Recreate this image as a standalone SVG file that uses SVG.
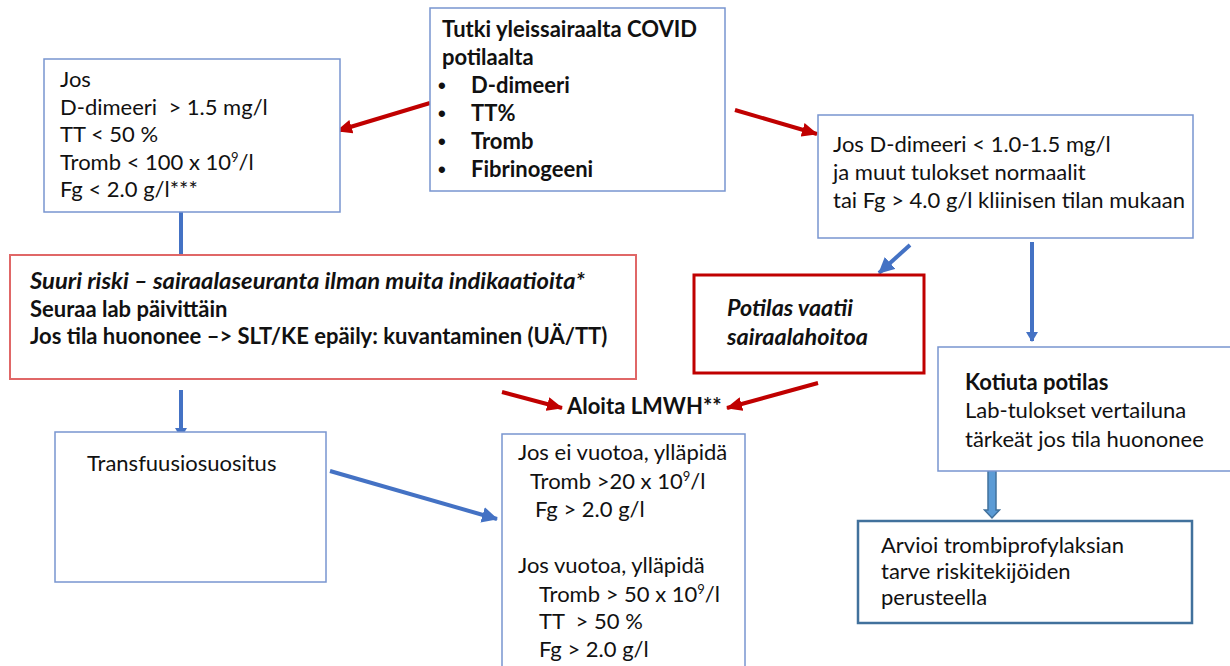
<svg xmlns="http://www.w3.org/2000/svg" width="1230" height="666" viewBox="0 0 1230 666">
<style>
text{font-family:Lato,"Liberation Sans",sans-serif;font-size:22px;fill:#111}
.b{font-weight:bold}
.bi{font-weight:bold;font-style:italic}
.bul{font-family:"Liberation Sans",sans-serif;font-size:22px;font-weight:bold}
.box{fill:#fff;stroke:#7895d0;stroke-width:1.5}
.rbox{fill:#fff;stroke:#e06767;stroke-width:2}
.dbox{fill:#fff;stroke:#c00000;stroke-width:3}
.sbox{fill:#fff;stroke:#41719c;stroke-width:2.5}
.ra{stroke:#c00000;stroke-width:4;fill:none}
.ba{stroke:#4472c4;stroke-width:4;fill:none}
.sup{font-size:13px}
</style>
<defs>
<marker id="mr" markerUnits="userSpaceOnUse" markerWidth="16" markerHeight="14" refX="15" refY="7" orient="auto"><path d="M0,0 L16,7 L0,14 z" fill="#c00000"/></marker>
<marker id="mb" markerUnits="userSpaceOnUse" markerWidth="16" markerHeight="16" refX="15" refY="8" orient="auto"><path d="M0,0 L16,8 L0,16 z" fill="#4472c4"/></marker>
<marker id="ms" markerUnits="userSpaceOnUse" markerWidth="10" markerHeight="12" refX="9" refY="6" orient="auto"><path d="M0,0 L10,6 L0,12 z" fill="#4472c4"/></marker>
</defs>
<rect width="1230" height="666" fill="#fff"/>

<g id="connectors">
<line class="ra" x1="430" y1="103" x2="337" y2="131" marker-end="url(#mr)"/>
<line class="ra" x1="735" y1="110" x2="817" y2="134" marker-end="url(#mr)"/>
<line class="ra" x1="502" y1="392" x2="562" y2="408" marker-end="url(#mr)"/>
<line class="ra" x1="818" y1="383" x2="727" y2="408" marker-end="url(#mr)"/>
<line class="ba" x1="181" y1="212" x2="181" y2="263" marker-end="url(#ms)"/>
<line class="ba" x1="181" y1="390" x2="181" y2="437" marker-end="url(#ms)"/>
<line class="ba" x1="330" y1="471" x2="497" y2="519" marker-end="url(#mb)"/>
<line class="ba" x1="910" y1="245" x2="879" y2="273" marker-end="url(#mb)"/>
<line class="ba" x1="1032" y1="242" x2="1032" y2="341" marker-end="url(#ms)"/>
<path d="M988,457 L996,457 L996,510 L999.5,510 L992,518 L984.5,510 L988,510 z" fill="#5b9bd5" stroke="#41719c" stroke-width="1.5"/>
</g>

<g id="node-top">
<rect class="box" x="430" y="8" width="295" height="183"/>
<text class="b" x="442" y="37">Tutki yleissairaalta COVID</text>
<text class="b" x="442" y="65">potilaalta</text>
<text class="bul" x="438" y="93">•</text><text class="b" x="471" y="93">D-dimeeri</text>
<text class="bul" x="438" y="121">•</text><text class="b" x="471" y="121">TT%</text>
<text class="bul" x="438" y="149">•</text><text class="b" x="471" y="149">Tromb</text>
<text class="bul" x="438" y="177">•</text><text class="b" x="471" y="177">Fibrinogeeni</text>
</g>

<g id="node-high">
<rect class="box" x="44" y="59" width="296" height="153"/>
<text x="60" y="87">Jos</text>
<text x="60" y="115" xml:space="preserve">D-dimeeri  &gt; 1.5 mg/l</text>
<text x="60" y="142">TT &lt; 50 %</text>
<text x="60" y="170">Tromb &lt; 100 x 10<tspan class="sup" dy="-8">9</tspan><tspan dy="8">/l</tspan></text>
<text x="60" y="197">Fg &lt; 2.0 g/l***</text>
</g>

<g id="node-low">
<rect class="box" x="818" y="115" width="375" height="123"/>
<text x="833" y="152">Jos D-dimeeri &lt; 1.0-1.5 mg/l</text>
<text x="833" y="180">ja muut tulokset normaalit</text>
<text x="833" y="208">tai Fg &gt; 4.0 g/l kliinisen tilan mukaan</text>
</g>

<g id="node-risk">
<rect class="rbox" x="10" y="255" width="626" height="124"/>
<text class="bi" x="30" y="289" textLength="555" lengthAdjust="spacingAndGlyphs">Suuri riski – sairaalaseuranta ilman muita indikaatioita*</text>
<text class="b" x="30" y="317">Seuraa lab päivittäin</text>
<text class="b" x="30" y="344">Jos tila huononee –&gt; SLT/KE epäily: kuvantaminen (UÄ/TT)</text>
</g>

<g id="node-hosp">
<rect class="dbox" x="694" y="275" width="230" height="98"/>
<text class="bi" x="727" y="316" textLength="126" lengthAdjust="spacingAndGlyphs">Potilas vaatii</text>
<text class="bi" x="727" y="345" textLength="141" lengthAdjust="spacingAndGlyphs">sairaalahoitoa</text>
</g>

<g id="node-lmwh">
<text class="b" x="567" y="414">Aloita LMWH**</text>
</g>

<g id="node-home">
<rect class="box" x="938" y="347" width="300" height="124"/>
<text class="b" x="965" y="390">Kotiuta potilas</text>
<text x="965" y="418">Lab-tulokset vertailuna</text>
<text x="965" y="447">tärkeät jos tila huononee</text>
</g>

<g id="node-assess">
<rect class="sbox" x="858" y="521" width="334" height="102"/>
<text x="881" y="553">Arvioi trombiprofylaksian</text>
<text x="881" y="579">tarve riskitekijöiden</text>
<text x="881" y="605">perusteella</text>
</g>

<g id="node-transf">
<rect class="box" x="55" y="432" width="271" height="150"/>
<text x="87" y="471">Transfuusiosuositus</text>
</g>

<g id="node-maint">
<rect class="box" x="502" y="434" width="243" height="240"/>
<text x="518" y="460">Jos ei vuotoa, ylläpidä</text>
<text x="530" y="489">Tromb &gt;20 x 10<tspan class="sup" dy="-8">9</tspan><tspan dy="8">/l</tspan></text>
<text x="535" y="517">Fg &gt; 2.0 g/l</text>
<text x="518" y="573">Jos vuotoa, ylläpidä</text>
<text x="539" y="602">Tromb &gt; 50 x 10<tspan class="sup" dy="-8">9</tspan><tspan dy="8">/l</tspan></text>
<text x="539" y="629" xml:space="preserve">TT  &gt; 50 %</text>
<text x="539" y="657">Fg &gt; 2.0 g/l</text>
</g>
</svg>
